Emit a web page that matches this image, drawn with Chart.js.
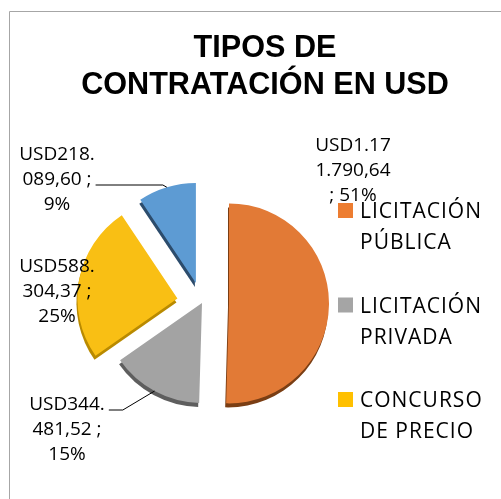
<!DOCTYPE html>
<html>
<head>
<meta charset="utf-8">
<script src="https://cdn.jsdelivr.net/npm/chart.js@4.4.1/dist/chart.umd.min.js"></script>
<style>
  html, body { margin: 0; padding: 0; background: #fff; overflow: hidden; }
  #chart { display: block; }
</style>
</head>
<body>
<canvas id="chart" width="501" height="499"></canvas>
<script>
// Data
const titleLines = ['TIPOS DE', 'CONTRATACIÓN EN USD'];
const categories = ['LICITACIÓN PÚBLICA', 'LICITACIÓN PRIVADA', 'CONCURSO DE PRECIO', 'CONTRATACIÓN DIRECTA'];
const legendLines = [['LICITACIÓN', 'PÚBLICA'], ['LICITACIÓN', 'PRIVADA'], ['CONCURSO', 'DE PRECIO'], ['CONTRATACIÓN', 'DIRECTA']];
const amounts = [1171790.64, 344481.52, 588304.37, 218089.60];
const percents = ['51%', '15%', '25%', '9%'];

// Styling
const sliceColors = ['#E27A36', '#A3A3A3', '#F9BF14', '#5D9BD3'];
const sideColors = ['#7A3E14', '#5E5E5E', '#B98A00', '#2C4C6C'];
const legendColors = ['#ED7D31', '#A5A5A5', '#FFC000', '#5B9BD5'];
const explode = [27, 0, 25, 21];   // px each slice is pulled out
const visibleLegendItems = 3;

// label anchors: centre x, first baseline y
const labelPos = [
    { x: 353, y: 151 },
    { x: 67, y: 410, leader: { line: 0, elbow: 14 } },
    { x: 57, y: 272 },
    { x: 57, y: 160, leader: { line: 1, elbow: -4 } }
];

function fmtUSD(v) {
    const parts = v.toFixed(2).split('.');
    const int = parts[0].replace(/\B(?=(\d{3})+(?!\d))/g, '.');
    return 'USD' + int + ',' + parts[1];
}

function labelLines(i) {
    const s = fmtUSD(amounts[i]) + ' ; ' + percents[i];
    return [s.slice(0, 7), s.slice(7, 15).trim(), s.slice(15).trim()];
}

function arcGeom(arc, d) {
    const p = arc.getProps(['x', 'y', 'startAngle', 'endAngle', 'outerRadius'], true);
    const mid = (p.startAngle + p.endAngle) / 2;
    return {
        dx: Math.cos(mid) * d, dy: Math.sin(mid) * d,
        cx: p.x + Math.cos(mid) * d, cy: p.y + Math.sin(mid) * d,
        r: p.outerRadius, start: p.startAngle, end: p.endAngle, mid: mid
    };
}

const framePlugin = {
    id: 'frame',
    beforeDraw(chart) {
        const ctx = chart.ctx;
        ctx.save();
        ctx.strokeStyle = '#A6A6A6';
        ctx.lineWidth = 1;
        ctx.beginPath();
        ctx.moveTo(9.5, 499);
        ctx.lineTo(9.5, 11.5);
        ctx.lineTo(501, 11.5);
        ctx.stroke();
        ctx.restore();
    }
};

// exploded slices with a darker edge underneath for the 3D look
const explodePlugin = {
    id: 'explode',
    beforeDatasetDraw(chart, args) {
        const ctx = chart.ctx;
        const meta = chart.getDatasetMeta(args.index);
        meta.data.forEach((arc, i) => {
            const g = arcGeom(arc, explode[i]);
            ctx.save();
            ctx.fillStyle = sideColors[i];
            ctx.beginPath();
            ctx.moveTo(g.cx - 1, g.cy + 4);
            ctx.arc(g.cx - 1, g.cy + 4, g.r, g.start, g.end);
            ctx.closePath();
            ctx.fill();
            ctx.restore();
        });
        meta.data.forEach((arc, i) => {
            const g = arcGeom(arc, explode[i]);
            ctx.save();
            ctx.translate(g.dx, g.dy);
            arc.draw(ctx, chart.chartArea);
            ctx.restore();
        });
        return false;
    }
};

const textPlugin = {
    id: 'texts',
    afterDraw(chart) {
        const ctx = chart.ctx;
        const meta = chart.getDatasetMeta(0);
        ctx.save();

        // title
        ctx.fillStyle = '#000';
        ctx.textAlign = 'center';
        ctx.textBaseline = 'alphabetic';
        ctx.font = 'bold 30.6px "Liberation Sans", Arial, sans-serif';
        ctx.fillText(titleLines[0], 265, 57);
        ctx.fillText(titleLines[1], 265, 94);

        // data labels
        ctx.font = '19px "Open Sans", sans-serif';
        meta.data.forEach((arc, i) => {
            const pos = labelPos[i];
            const lines = labelLines(i);
            ctx.fillStyle = '#000';
            ctx.textAlign = 'center';
            lines.forEach((ln, k) => ctx.fillText(ln, pos.x, pos.y + k * 25));
            if (pos.leader) {
                const g = arcGeom(arc, explode[i]);
                const ax = g.cx + Math.cos(g.mid) * g.r;
                const ay = g.cy + Math.sin(g.mid) * g.r;
                const ln = lines[pos.leader.line];
                const sx = pos.x + ctx.measureText(ln).width / 2 + 4;
                const sy = pos.y + pos.leader.line * 25;
                const ex = pos.leader.elbow > 0 ? sx + pos.leader.elbow : ax + pos.leader.elbow;
                ctx.strokeStyle = '#000';
                ctx.lineWidth = 1;
                ctx.beginPath();
                ctx.moveTo(sx, sy);
                ctx.lineTo(ex, sy);
                ctx.lineTo(ax, ay);
                ctx.stroke();
            }
        });

        // legend
        ctx.textAlign = 'left';
        ctx.font = '21px "Open Sans", sans-serif';
        ctx.letterSpacing = '1px';
        for (let i = 0; i < visibleLegendItems; i++) {
            const y0 = 218 + i * 94.5;
            ctx.fillStyle = legendColors[i];
            ctx.fillRect(338, y0 - 15, 15, 15);
            ctx.fillStyle = '#000';
            legendLines[i].forEach((ln, k) => ctx.fillText(ln, 360, y0 + k * 31));
        }
        ctx.restore();
    }
};

new Chart(document.getElementById('chart'), {
    type: 'pie',
    data: {
        labels: categories,
        datasets: [{
            data: amounts,
            backgroundColor: sliceColors,
            borderWidth: 0
        }]
    },
    options: {
        responsive: false,
        animation: false,
        radius: 100,
        layout: { padding: { left: 0, right: 97, top: 107, bottom: 0 } },
        plugins: {
            legend: { display: false },
            title: { display: false },
            tooltip: { enabled: false }
        }
    },
    plugins: [framePlugin, explodePlugin, textPlugin]
});
</script>
</body>
</html>
